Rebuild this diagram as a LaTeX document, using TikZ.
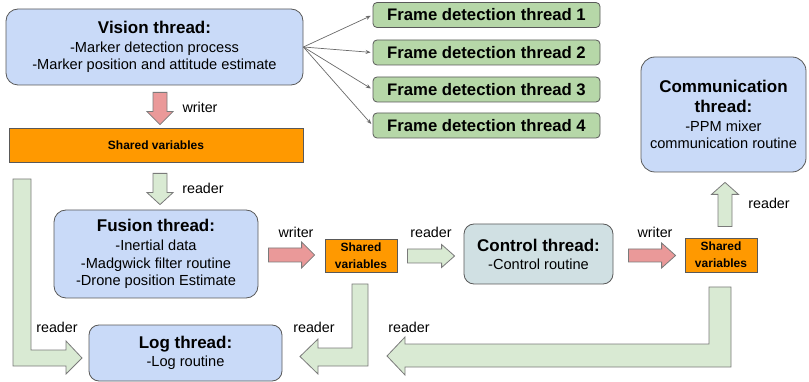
\documentclass[tikz,border=0pt]{standalone}
\usepackage{fontspec}
\setmainfont{Liberation Sans}
\usetikzlibrary{calc,arrows.meta}

\definecolor{boxblue}{HTML}{C9DAF8}
\definecolor{boxcyan}{HTML}{D0E0E3}
\definecolor{boxgreen}{HTML}{B6D7A8}
\definecolor{arrgreen}{HTML}{D9EAD3}
\definecolor{arrred}{HTML}{EA9999}
\definecolor{sharedorange}{HTML}{FF9900}
\definecolor{edgegray}{HTML}{595959}

% straight block arrow: [style]{tail}{tip}{shaft half width}{head half width}{head length}
\newcommand\blockarrow[6][]{%
  \coordinate (bneck) at ($(#3)!#6!(#2)$);
  \draw[#1] ($(#2)!#4!90:(#3)$) -- ($(bneck)!#4!90:(#3)$) -- ($(bneck)!#5!90:(#3)$)
    -- (#3) -- ($(bneck)!#5!-90:(#3)$) -- ($(bneck)!#4!-90:(#3)$)
    -- ($(#2)!#4!-90:(#3)$) -- cycle;}

\tikzset{
  thread/.style={draw=edgegray, line width=0.8pt, rounded corners=12pt,
    inner sep=0pt, align=center, font=\fontsize{14.6}{17.5}\selectfont},
  shared/.style={draw=edgegray, line width=0.8pt, fill=sharedorange, inner sep=0pt,
    align=center, font=\bfseries\fontsize{12}{17}\selectfont},
  framebox/.style={draw=edgegray, line width=0.8pt, fill=boxgreen, rounded corners=4pt,
    inner sep=0pt, minimum width=227pt, minimum height=25pt,
    font=\bfseries\fontsize{16.7}{19}\selectfont},
  lbl/.style={font=\fontsize{14.3}{16}\selectfont, inner sep=0pt},
  conn/.style={draw=edgegray!90, line width=0.7pt, -{Stealth[length=5pt,width=4pt]}},
  redarrow/.style={draw=edgegray!80, line width=0.8pt, fill=arrred},
  greenarrow/.style={draw=edgegray!80, line width=0.8pt, fill=arrgreen},
}
\newcommand\ttl[1]{{\bfseries\fontsize{17}{20}\selectfont #1}}

\begin{document}
\begin{tikzpicture}[x=1pt,y=-1pt]
\useasboundingbox (0,0) rectangle (809,382);

% thread boxes
\node[thread, fill=boxblue, minimum width=297pt, minimum height=76pt] (vision) at (154.5,47)
  {\ttl{Vision thread:}\\[1pt]-Marker detection process\\-Marker position and attitude estimate};
\node[shared, minimum width=294pt, minimum height=34pt] (sharedA) at (156,145) {Shared variables};
\node[thread, fill=boxblue, minimum width=204pt, minimum height=88pt] (fusion) at (156,254)
  {\ttl{Fusion thread:}\\[1.5pt]-Inertial data\\-Madgwick filter routine\\-Drone position Estimate};
\node[shared, minimum width=72pt, minimum height=33pt] (sharedB) at (361,255.5) {Shared\\variables};
\node[thread, fill=boxcyan, rounded corners=10pt, minimum width=149pt, minimum height=60pt] (control) at (538.5,254)
  {\ttl{Control thread:}\\[0.5pt]-Control routine};
\node[shared, minimum width=72pt, minimum height=34pt] (sharedC) at (721,255) {Shared\\variables};
\node[thread, fill=boxblue, rounded corners=14pt, minimum width=165pt, minimum height=115pt] (comm) at (723.5,114.5)
  {\ttl{Communication}\\[2.5pt]\ttl{thread:}\\[1pt]-PPM mixer\\communication routine};
\node[thread, fill=boxblue, rounded corners=10pt, minimum width=193pt, minimum height=56pt] (log) at (185.5,353)
  {\ttl{Log thread:}\\[0.5pt]-Log routine};

% frame detection threads
\node[framebox] (frame1) at (486.5,15) {Frame detection thread 1};
\node[framebox] (frame2) at (486.5,52.5) {Frame detection thread 2};
\node[framebox] (frame3) at (486.5,89.5) {Frame detection thread 3};
\node[framebox] (frame4) at (486.5,125.5) {Frame detection thread 4};
\foreach \i in {1,...,4}
  \draw[conn, shorten >=2pt] (vision.east) -- (frame\i.west);

% straight block arrows
\coordinate (wAtail) at ($(vision.south)+(5.5,7)$);
\coordinate (wAtip) at ($(sharedA.north)+(4,-3)$);
\blockarrow[redarrow]{wAtail}{wAtip}{7pt}{13pt}{13pt}
\coordinate (rAtail) at ($(sharedA.south)+(4,11)$);
\coordinate (rAtip) at ($(fusion.north)+(4,-5)$);
\blockarrow[greenarrow]{rAtail}{rAtip}{7pt}{13pt}{12pt}
\coordinate (wBtail) at ($(fusion.east)+(10,1)$);
\coordinate (wBtip) at ($(sharedB.west)+(-10,-0.5)$);
\blockarrow[redarrow]{wBtail}{wBtip}{7pt}{13pt}{13pt}
\coordinate (rBtail) at ($(sharedB.east)+(10,0.5)$);
\coordinate (rBtip) at ($(control.west)+(-9,2)$);
\blockarrow[greenarrow]{rBtail}{rBtip}{7pt}{11.5pt}{13pt}
\coordinate (wCtail) at ($(control.east)+(15,1.5)$);
\coordinate (wCtip) at ($(sharedC.west)+(-9,0.5)$);
\blockarrow[redarrow]{wCtail}{wCtip}{6.5pt}{12.5pt}{14pt}
\coordinate (rCtail) at ($(sharedC.north)+(4,-11)$);
\coordinate (rCtip) at ($(comm.south)+(1.5,10)$);
\blockarrow[greenarrow]{rCtail}{rCtip}{7pt}{13.5pt}{12pt}

% bent block arrows into the log thread
\draw[greenarrow] (13,179) -- (31,179) -- (31,350) -- (66,350) -- (66,341) -- (82,358)
  -- (66,374) -- (66,366) -- (13,366) -- cycle;
\draw[greenarrow] (352,284) -- (368,284) -- (368,366) -- (318,366) -- (318,374) -- (300,356.5)
  -- (318,339) -- (318,348) -- (352,348) -- cycle;
\draw[greenarrow] (709,287) -- (731,287) -- (731,367) -- (405,367) -- (405,375) -- (387,356)
  -- (405,337) -- (405,344) -- (709,344) -- cycle;

% arrow labels
\node[lbl] (lw1) at (200,107) {writer};
\node[lbl] (lr1) at (203,188) {reader};
\node[lbl] (lw2) at (296,232) {writer};
\node[lbl] (lr2) at (431,232) {reader};
\node[lbl] (lw3) at (655,232) {writer};
\node[lbl] (lr3) at (769,203) {reader};
\node[lbl] (lr4) at (57,327) {reader};
\node[lbl] (lr5) at (314,327) {reader};
\node[lbl] (lr6) at (409,327) {reader};
\end{tikzpicture}
\end{document}
